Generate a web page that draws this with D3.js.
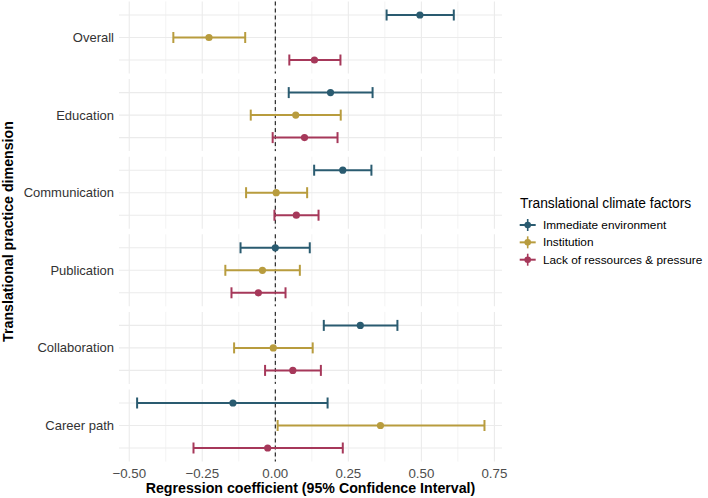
<!DOCTYPE html>
<html><head><meta charset="utf-8">
<script src="https://cdn.jsdelivr.net/npm/d3@7"></script>
<style>body{margin:0;background:#fff}svg{display:block;font-family:"Liberation Sans",Arial,sans-serif}</style>
</head><body><svg id="c" width="708" height="498"></svg>
<script>
const dimensions = ["Overall","Education","Communication","Publication","Collaboration","Career path"];
const factors = ["Immediate environment","Institution","Lack of ressources & pressure"];
const colors = ["#2a5b70","#b89c3e","#a6385a"];
// estimates [dimension][factor]
const estimate = [
  [0.495,-0.227,0.134],
  [0.189,0.070,0.100],
  [0.231,0.003,0.072],
  [0.000,-0.044,-0.058],
  [0.291,-0.007,0.060],
  [-0.145,0.360,-0.026]
];
const lower = [
  [0.381,-0.349,0.048],
  [0.046,-0.084,-0.009],
  [0.133,-0.100,-0.003],
  [-0.119,-0.171,-0.150],
  [0.166,-0.141,-0.035],
  [-0.473,0.008,-0.280]
];
const upper = [
  [0.611,-0.103,0.223],
  [0.333,0.224,0.213],
  [0.329,0.109,0.148],
  [0.118,0.084,0.035],
  [0.418,0.128,0.156],
  [0.179,0.716,0.231]
];
const xTicks = [-0.5,-0.25,0,0.25,0.5,0.75];
const xMinor = [-0.375,-0.125,0.125,0.375,0.625];

const svg = d3.select("#c");
const x = d3.scaleLinear().domain([-0.535,0.776]).range([119,502]);
const outer = d3.scaleBand().domain(dimensions).range([1.5,461.5]).paddingInner(0.072).paddingOuter(0);
const grid = "#ebebeb";

dimensions.forEach((dim,i)=>{
  const top = outer(dim), bw = outer.bandwidth();
  const inner = d3.scalePoint().domain(factors).range([top, top+bw]).padding(0.6);
  const g = svg.append("g");
  xMinor.forEach(t=>g.append("line").attr("x1",x(t)).attr("x2",x(t)).attr("y1",top).attr("y2",top+bw).attr("stroke",grid).attr("stroke-width",0.6));
  xTicks.forEach(t=>g.append("line").attr("x1",x(t)).attr("x2",x(t)).attr("y1",top).attr("y2",top+bw).attr("stroke",grid).attr("stroke-width",1.1));
  factors.forEach(f=>g.append("line").attr("x1",119).attr("x2",502).attr("y1",inner(f)).attr("y2",inner(f)).attr("stroke",grid).attr("stroke-width",1.1));
  g.append("line").attr("x1",x(0)).attr("x2",x(0)).attr("y1",top).attr("y2",top+bw).attr("stroke","#000").attr("stroke-width",1).attr("stroke-dasharray","4,3");
  factors.forEach((f,j)=>{
    const y = inner(f), c = colors[j];
    g.append("line").attr("x1",x(lower[i][j])).attr("x2",x(upper[i][j])).attr("y1",y).attr("y2",y).attr("stroke",c).attr("stroke-width",2);
    [lower[i][j],upper[i][j]].forEach(v=>g.append("line").attr("x1",x(v)).attr("x2",x(v)).attr("y1",y-5.5).attr("y2",y+5.5).attr("stroke",c).attr("stroke-width",2));
    g.append("circle").attr("cx",x(estimate[i][j])).attr("cy",y).attr("r",3.6).attr("fill",c);
  });
  svg.append("text").attr("x",114).attr("y",inner(factors[1])).attr("dy","0.35em").attr("text-anchor","end")
    .attr("font-size",13).attr("fill","#333").text(dim);
});

// x axis tick labels
xTicks.forEach(t=>svg.append("text").attr("x",x(t)).attr("y",473).attr("dy","0.35em").attr("text-anchor","middle")
  .attr("font-size",13.3).attr("fill","#4d4d4d").text(d3.format(".2f")(t).replace("-","-")));

svg.append("text").attr("x",310.5).attr("y",488).attr("dy","0.35em").attr("text-anchor","middle")
  .attr("font-size",14.2).attr("font-weight","bold").attr("fill","#000").text("Regression coefficient (95% Confidence Interval)");
svg.append("text").attr("transform","translate(8,231.5) rotate(-90)").attr("dy","0.35em").attr("text-anchor","middle")
  .attr("font-size",14.2).attr("font-weight","bold").attr("fill","#000").text("Translational practice dimension");

// legend
const lg = svg.append("g");
lg.append("text").attr("x",520).attr("y",202.7).attr("dy","0.35em").attr("font-size",13.8).attr("fill","#000").text("Translational climate factors");
factors.forEach((f,j)=>{
  const y = 225 + j*17.35, cx = 527.7, c = colors[j];
  lg.append("line").attr("x1",cx-8).attr("x2",cx+8).attr("y1",y).attr("y2",y).attr("stroke",c).attr("stroke-width",2);
  lg.append("line").attr("x1",cx).attr("x2",cx).attr("y1",y-6).attr("y2",y+6).attr("stroke",c).attr("stroke-width",1.6);
  lg.append("circle").attr("cx",cx).attr("cy",y).attr("r",3.3).attr("fill",c);
  lg.append("text").attr("x",543).attr("y",y).attr("dy","0.35em").attr("font-size",11.8).attr("fill","#000").text(f);
});
</script></body></html>
